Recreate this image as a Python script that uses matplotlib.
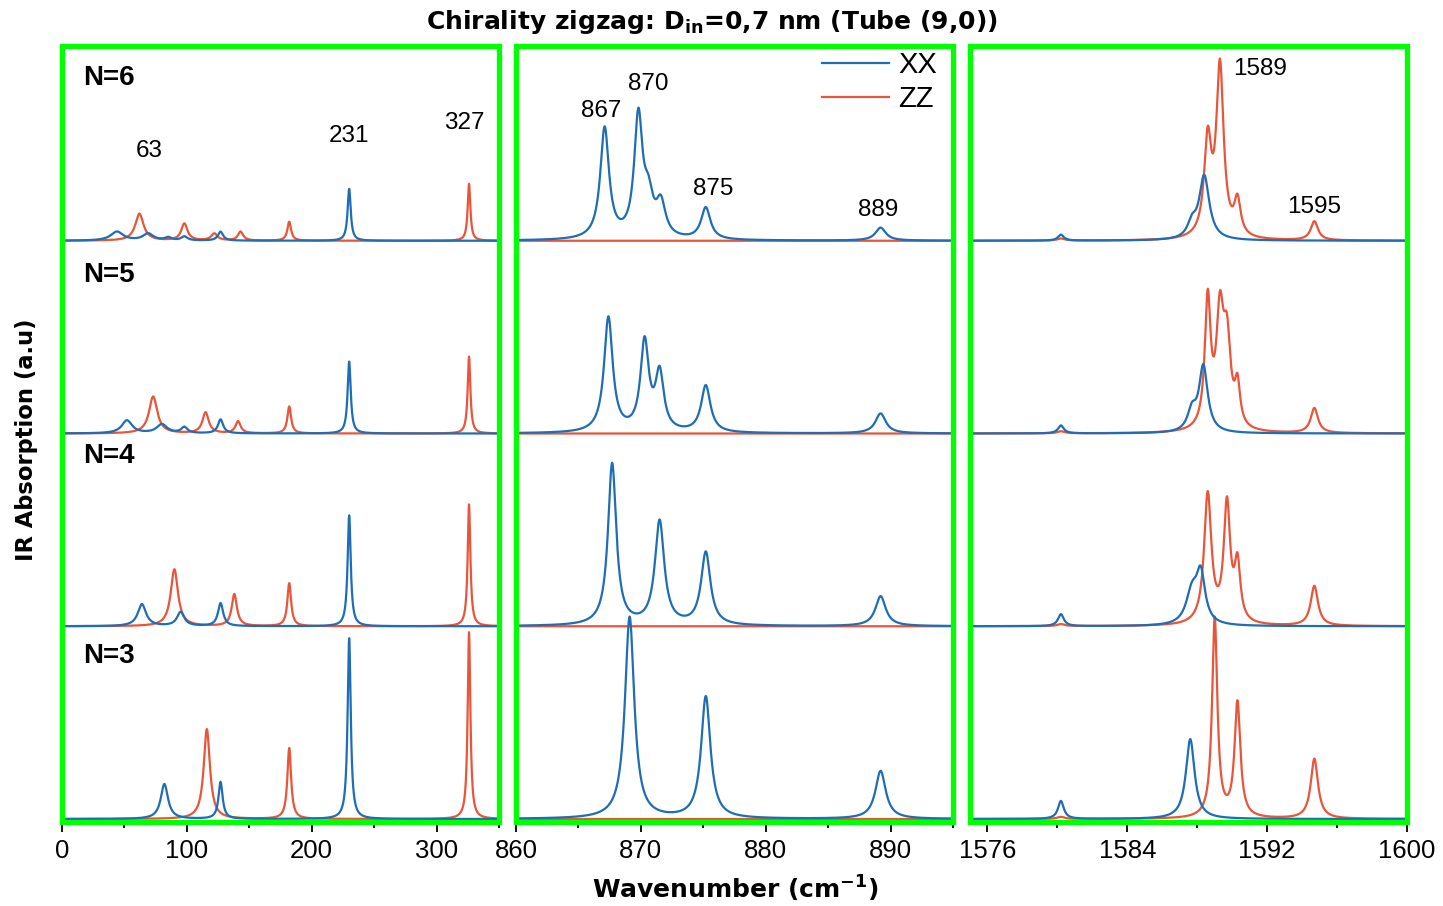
import numpy as np
import matplotlib
matplotlib.use("Agg")
import matplotlib.pyplot as plt
from matplotlib.patches import Rectangle
from matplotlib.ticker import MultipleLocator

# ---- peak tables: (centre cm^-1, height a.u., half width cm^-1) for each layer count N ----
low_xx = {
    6: [(44, 9, 6), (69, 7, 5), (85, 3, 3), (98, 4, 3), (127, 9, 2.5), (230, 52, 1.5)],
    5: [(52, 13, 5), (80, 9, 5), (98, 6, 3), (127, 14, 2.5), (230, 72, 1.5)],
    4: [(64, 22, 4), (95, 14, 3.5), (127, 23, 2.5), (230, 111, 1.5)],
    3: [(82, 35, 3.5), (127, 37, 2), (230, 181, 1.5)],
}
low_zz = {
    6: [(62, 27, 4), (98, 17, 3), (122, 7, 3), (143, 9, 2.5), (182, 19, 1.8), (326, 57, 1.3)],
    5: [(73, 37, 4), (115, 21, 3), (141, 12, 2.5), (182, 27, 1.8), (326, 77, 1.3)],
    4: [(90, 57, 3.5), (138, 32, 2.5), (182, 43, 1.8), (326, 122, 1.3)],
    3: [(116, 90, 3), (182, 71, 1.8), (326, 187, 1.3)],
}
mid_xx = {
    6: [(867.1, 111, 0.42), (869.8, 120, 0.4), (870.6, 35, 0.45), (871.6, 33, 0.45),
        (875.2, 32, 0.45), (889.2, 13, 0.5)],
    5: [(867.4, 115, 0.42), (870.3, 89, 0.4), (871.5, 57, 0.4), (875.2, 47, 0.45),
        (889.2, 20, 0.5)],
    4: [(867.7, 162, 0.4), (871.5, 104, 0.45), (875.2, 73, 0.45), (889.2, 30, 0.5)],
    3: [(869.1, 202, 0.45), (875.2, 122, 0.45), (889.2, 48, 0.5)],
}
mid_zz = {6: [], 5: [], 4: [], 3: []}
high_xx = {
    6: [(1580.2, 6, 0.2), (1587.7, 14, 0.3), (1588.4, 64, 0.35)],
    5: [(1580.2, 8, 0.2), (1587.7, 20, 0.3), (1588.35, 66, 0.3)],
    4: [(1580.2, 12, 0.2), (1587.7, 32, 0.4), (1588.2, 48, 0.3)],
    3: [(1580.2, 18, 0.2), (1587.6, 80, 0.3)],
}
high_zz = {
    6: [(1580.2, 2, 0.25), (1588.6, 95, 0.25), (1589.3, 170, 0.25), (1590.3, 35, 0.22),
        (1594.7, 19, 0.25)],
    5: [(1580.2, 2, 0.25), (1588.6, 128, 0.2), (1589.3, 109, 0.25), (1589.7, 82, 0.25),
        (1590.3, 40, 0.18), (1594.7, 25, 0.25)],
    4: [(1580.2, 2, 0.25), (1588.6, 130, 0.25), (1589.7, 118, 0.22), (1590.3, 57, 0.2),
        (1594.7, 40, 0.25)],
    3: [(1580.2, 2, 0.25), (1589.0, 200, 0.18), (1590.3, 115, 0.2), (1594.7, 60, 0.25)],
}

layers = [3, 4, 5, 6]
layer_offset = {3: 0, 4: 193, 5: 386, 6: 579}

low_range = (0, 350)
mid_range = (860, 895)
high_range = (1575, 1600)

low_ticks = [0, 100, 200, 300]
mid_ticks = [860, 870, 880, 890]
high_ticks = [1576, 1584, 1592, 1600]

low_labels = [("63", 70, 669), ("231", 230, 684), ("327", 322, 697)]
mid_labels = [("867", 866.8, 709), ("870", 870.6, 736), ("875", 875.8, 631), ("889", 889.0, 610)]
high_labels = [("1589", 1591.6, 751), ("1595", 1594.7, 613)]

layer_label_y = {6: 742, 5: 545, 4: 363, 3: 163}

BLUE = "#1f6db5"
RED = "#e9553a"
GREEN = "#00ff00"


def spectrum(x, peaks):
    y = np.zeros_like(x)
    for c, h, w in peaks:
        y += h / (1.0 + ((x - c) / w) ** 2)
    return y


W, H = 1443, 906
fig = plt.figure(figsize=(W / 100, H / 100), dpi=100)

panels = [
    (62, low_range, low_xx, low_zz, low_ticks, 50, low_labels, 0.25),
    (516, mid_range, mid_xx, mid_zz, mid_ticks, 5, mid_labels, 0.01),
    (970, high_range, high_xx, high_zz, high_ticks, 4, high_labels, 0.005),
]

axes = []
for i, (left_px, xr, xx, zz, ticks, minor, labels, step) in enumerate(panels):
    ax = fig.add_axes([left_px / W, 1 - 822 / H, 437 / W, 776 / H])
    axes.append(ax)
    x = np.arange(xr[0], xr[1] + step / 2, step)
    for n in layers:
        off = layer_offset[n]
        ax.plot(x, spectrum(x, zz[n]) + off, color=RED, lw=1.6, zorder=2)
        ax.plot(x, spectrum(x, xx[n]) + off, color=BLUE, lw=1.6, zorder=3)
    ax.set_xlim(*xr)
    ax.set_ylim(-3, 774)
    ax.set_yticks([])
    ax.set_xticks(ticks)
    ax.xaxis.set_minor_locator(MultipleLocator(minor))
    ax.tick_params(axis="x", which="major", direction="out", length=7, width=1.3,
                   labelsize=18.5, pad=5)
    ax.tick_params(axis="x", which="minor", direction="out", length=4, width=1.3)
    for lab in ax.get_xticklabels():
        lab.set_fontfamily("Liberation Sans")
    ax.spines["top"].set_visible(False)
    ax.spines["right"].set_visible(i > 0)
    for side in ("left", "bottom", "right"):
        ax.spines[side].set_linewidth(1.3)
    ax.add_patch(Rectangle((0, 0), 1, 1, transform=ax.transAxes, fill=False,
                           edgecolor=GREEN, lw=3.8, clip_on=False, zorder=5))
    for txt, lx, ly in labels:
        ax.text(lx, ly, txt, ha="center", va="center", fontsize=17.5,
                family="Liberation Sans", zorder=6)

ax0 = axes[0]
for n in layers:
    ax0.text(0.048, layer_label_y[n], f"N={n}", transform=ax0.get_yaxis_transform(),
             ha="left", va="center", fontsize=20, fontweight="bold",
             family="Liberation Sans", zorder=6)

ax1 = axes[1]
ax1.plot([], [], color=BLUE, lw=1.6, label="XX")
ax1.plot([], [], color=RED, lw=1.6, label="ZZ")
leg = ax1.legend(loc="upper right", bbox_to_anchor=(0.99, 1.008), frameon=False,
                 handlelength=2.3, handletextpad=0.3, labelspacing=0.2,
                 borderaxespad=0.0, prop={"family": "Liberation Sans", "size": 21})

fig.text(712 / W, 1 - 22 / H, r"Chirality zigzag: D$_{\mathbf{in}}$=0,7 nm (Tube (9,0))",
         ha="center", va="center", fontsize=18, fontweight="bold", family="DejaVu Sans")
fig.text(735 / W, 1 - 889 / H, r"Wavenumber (cm$^{\mathbf{-1}}$)",
         ha="center", va="center", fontsize=18, fontweight="bold", family="DejaVu Sans")
fig.text(27 / W, 1 - 440 / H, "IR Absorption (a.u)", rotation=90,
         ha="center", va="center", fontsize=16.3, fontweight="bold", family="DejaVu Sans")

fig.savefig("out.png", dpi=100)
